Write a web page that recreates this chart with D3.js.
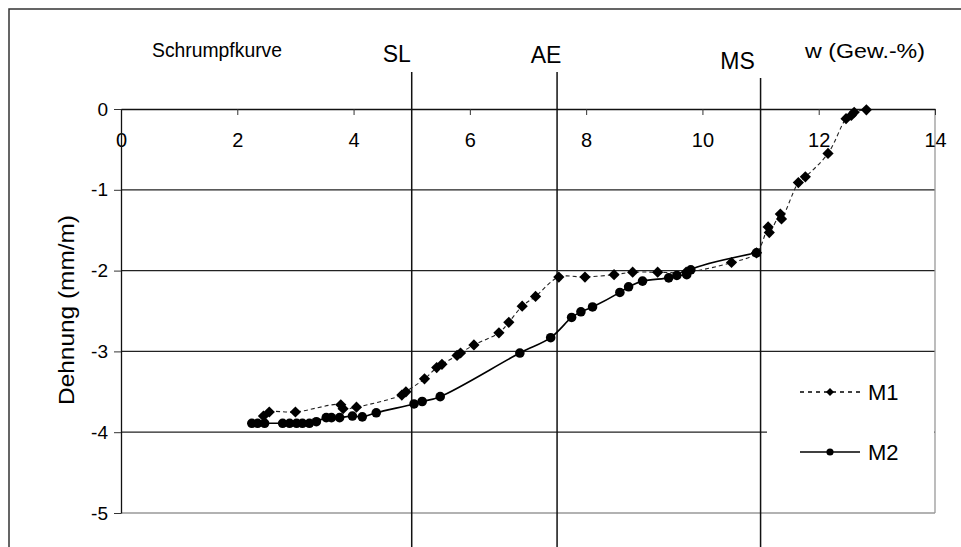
<!DOCTYPE html>
<html>
<head>
<meta charset="utf-8">
<script src="https://cdn.jsdelivr.net/npm/d3@7"></script>
<style>
  body { margin: 0; background: #fff; }
  svg { font-family: "Liberation Sans", Arial, sans-serif; }
</style>
</head>
<body>
<svg id="chart" width="961" height="547"></svg>
<script>
// water content w (Gew.-%) and strain (mm/m)
const m1W      = [2.45, 2.55, 3.0, 3.78, 3.82, 4.05, 4.83, 4.9, 5.22, 5.43, 5.52, 5.78, 5.84, 6.07, 6.5, 6.67, 6.9, 7.13, 7.53, 7.98, 8.48, 8.8, 9.23, 9.72, 10.5, 10.93, 11.13, 11.15, 11.34, 11.36, 11.65, 11.77, 12.16, 12.47, 12.56, 12.61, 12.82];
const m1Strain = [-3.80, -3.75, -3.75, -3.66, -3.71, -3.69, -3.54, -3.50, -3.34, -3.20, -3.16, -3.05, -3.02, -2.92, -2.77, -2.64, -2.44, -2.32, -2.08, -2.08, -2.05, -2.02, -2.02, -2.02, -1.90, -1.78, -1.46, -1.53, -1.30, -1.36, -0.91, -0.84, -0.55, -0.12, -0.08, -0.04, -0.01];

const m2W      = [2.25, 2.35, 2.47, 2.78, 2.9, 3.02, 3.12, 3.24, 3.36, 3.53, 3.62, 3.76, 3.98, 4.15, 4.39, 5.04, 5.18, 5.49, 6.86, 7.39, 7.75, 7.91, 8.11, 8.58, 8.73, 8.97, 9.42, 9.56, 9.73, 9.8, 10.93];
const m2Strain = [-3.89, -3.89, -3.89, -3.89, -3.89, -3.89, -3.89, -3.89, -3.87, -3.82, -3.82, -3.82, -3.80, -3.81, -3.76, -3.65, -3.62, -3.56, -3.02, -2.83, -2.58, -2.51, -2.45, -2.27, -2.20, -2.13, -2.09, -2.06, -2.05, -1.99, -1.78];

const xTicks = [0, 2, 4, 6, 8, 10, 12, 14];
const yTicks = [0, -1, -2, -3, -4, -5];

const refLabels = ["SL", "AE", "MS"];
const refW = [5, 7.5, 11];

const seriesNames = ["M1", "M2"];

const svg = d3.select("#chart");

// plot area
const plotLeft = 121, plotRight = 935, plotTop = 109, plotBottom = 513;

const x = d3.scaleLinear().domain([0, 14]).range([plotLeft, plotRight]);
const y = d3.scaleLinear().domain([0, -5]).range([plotTop, plotBottom]);

// plain hyphen minus, like the original
const fmt = d => String(d);

// outer frame
svg.append("rect")
    .attr("x", 9).attr("y", 9)
    .attr("width", 980).attr("height", 600)
    .attr("fill", "none")
    .attr("stroke", "#333")
    .attr("stroke-width", 1.5);

// horizontal grid
svg.append("g").selectAll("line")
    .data(yTicks.filter(d => d < 0))
    .enter().append("line")
        .attr("x1", plotLeft).attr("x2", plotRight)
        .attr("y1", d => y(d)).attr("y2", d => y(d))
        .attr("stroke", d => d === -5 ? "#999" : "#222")
        .attr("stroke-width", 1.3);

// right border of plot
svg.append("line")
    .attr("x1", plotRight).attr("x2", plotRight)
    .attr("y1", plotTop).attr("y2", plotBottom)
    .attr("stroke", "#999").attr("stroke-width", 1.3);

// x axis sits on the zero line, ticks point down into the plot
const xAxis = svg.append("g")
    .attr("transform", "translate(0," + plotTop + ")")
    .call(d3.axisBottom(x).tickValues(xTicks).tickFormat(fmt).tickSize(6).tickPadding(18).tickSizeOuter(0));
xAxis.select(".domain").attr("stroke", "#111").attr("stroke-width", 1.5);
xAxis.selectAll(".tick line").attr("stroke", "#333");
xAxis.selectAll("text")
    .attr("font-size", 20).attr("fill", "#000")
    .attr("font-family", "Liberation Sans, Arial, sans-serif");

const yAxis = svg.append("g")
    .attr("transform", "translate(" + plotLeft + ",0)")
    .call(d3.axisLeft(y).tickValues(yTicks).tickFormat(fmt).tickSize(7).tickPadding(6).tickSizeOuter(0));
yAxis.select(".domain").attr("stroke", "#111").attr("stroke-width", 1.3);
yAxis.selectAll(".tick line").attr("stroke", "#333");
yAxis.selectAll("text")
    .attr("font-size", 19).attr("fill", "#000")
    .attr("font-family", "Liberation Sans, Arial, sans-serif");

// axis titles
svg.append("text")
    .attr("transform", "translate(74,310) rotate(-90)")
    .attr("text-anchor", "middle")
    .attr("font-size", 22)
    .attr("textLength", 190)
    .attr("lengthAdjust", "spacingAndGlyphs")
    .text("Dehnung (mm/m)");

svg.append("text")
    .attr("x", 152).attr("y", 57)
    .attr("font-size", 21)
    .attr("textLength", 130)
    .attr("lengthAdjust", "spacingAndGlyphs")
    .text("Schrumpfkurve");

svg.append("text")
    .attr("x", 805).attr("y", 58)
    .attr("font-size", 21)
    .attr("textLength", 120)
    .attr("lengthAdjust", "spacingAndGlyphs")
    .text("w (Gew.-%)");

// limit lines SL / AE / MS
const refTop = [72, 72, 78];
const refLabelDx = [-15, -11, -23];
const refLabelY = [62, 63, 69];
const refs = svg.append("g").selectAll("g")
    .data(refW)
    .enter().append("g");
refs.append("line")
    .attr("x1", d => x(d)).attr("x2", d => x(d))
    .attr("y1", (d, i) => refTop[i]).attr("y2", 560)
    .attr("stroke", "#111").attr("stroke-width", 1.5);
refs.append("text")
    .attr("x", (d, i) => x(d) + refLabelDx[i])
    .attr("y", (d, i) => refLabelY[i])
    .attr("text-anchor", "middle")
    .attr("font-size", 23)
    .text((d, i) => refLabels[i]);

// legend background hides the grid behind it
svg.append("rect")
    .attr("x", 767).attr("y", 362)
    .attr("width", plotRight - 767 - 1).attr("height", 135)
    .attr("fill", "#fff");

const m1 = m1W.map((w, i) => [w, m1Strain[i]]);
const m2 = m2W.map((w, i) => [w, m2Strain[i]]);

const line = d3.line()
    .curve(d3.curveCatmullRom.alpha(0.5))
    .x(d => x(d[0]))
    .y(d => y(d[1]));

svg.append("path")
    .datum(m1)
    .attr("fill", "none")
    .attr("stroke", "#222")
    .attr("stroke-width", 1.1)
    .attr("stroke-dasharray", "4,3")
    .attr("d", line);

svg.append("path")
    .datum(m2)
    .attr("fill", "none")
    .attr("stroke", "#000")
    .attr("stroke-width", 1.6)
    .attr("d", line);

const diamond = d3.symbol().type(d3.symbolDiamond2).size(80);
const circle = d3.symbol().type(d3.symbolCircle).size(72);

svg.append("g").selectAll("path")
    .data(m1)
    .enter().append("path")
        .attr("transform", d => "translate(" + x(d[0]) + "," + y(d[1]) + ")")
        .attr("d", diamond)
        .attr("fill", "#000");

svg.append("g").selectAll("path")
    .data(m2)
    .enter().append("path")
        .attr("transform", d => "translate(" + x(d[0]) + "," + y(d[1]) + ")")
        .attr("d", circle)
        .attr("fill", "#000");

// legend
const legendY = [392, 452];
const legend = svg.append("g").selectAll("g")
    .data(seriesNames)
    .enter().append("g")
        .attr("transform", (d, i) => "translate(800," + legendY[i] + ")");
legend.append("line")
    .attr("x1", 0).attr("x2", 60)
    .attr("stroke", "#000")
    .attr("stroke-width", 1.5)
    .attr("stroke-dasharray", (d, i) => i === 0 ? "4,4" : null);
legend.append("path")
    .attr("transform", "translate(30,0)")
    .attr("d", (d, i) => i === 0 ? d3.symbol().type(d3.symbolDiamond2).size(40)() : d3.symbol().type(d3.symbolCircle).size(40)())
    .attr("fill", "#000");
legend.append("text")
    .attr("x", 68).attr("y", 8)
    .attr("font-size", 22)
    .text(d => d);
</script>
</body>
</html>
